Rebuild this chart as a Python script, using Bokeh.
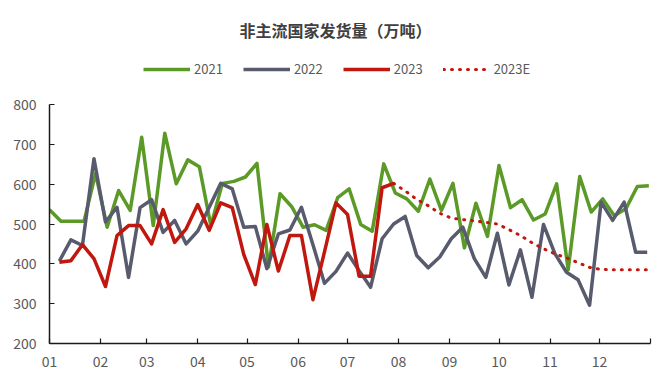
from bokeh.plotting import figure
from bokeh.models import FixedTicker, Legend, LegendItem, Range1d, Label
from bokeh.embed import file_html
from bokeh.resources import INLINE

# month start positions (day of year) and labels
month_ticks = [0, 31, 59, 90, 120, 151, 181, 212, 243, 273, 304, 334, 365]
month_labels = ["01", "02", "03", "04", "05", "06", "07", "08", "09", "10", "11", "12", ""]
y_ticks = [200, 300, 400, 500, 600, 700, 800]

# weekly shipments (万吨)
v2021 = [536, 507, 507, 507, 627, 492, 584, 534, 718, 496,
         728, 601, 661, 644, 496, 602, 607, 618, 652, 392,
         576, 544, 492, 498, 484, 566, 588, 499, 482, 651,
         578, 563, 532, 613, 534, 602, 440, 552, 469, 647,
         541, 561, 510, 525, 601, 385, 619, 530, 563, 521,
         538, 594, 596]
v2022 = [407, 460, 446, 664, 505, 542, 366, 541, 561, 479,
         509, 450, 482, 542, 602, 588, 492, 494, 388, 475,
         485, 542, 448, 351, 381, 427, 383, 341, 463, 500,
         519, 421, 390, 417, 463, 492, 413, 366, 477, 347,
         435, 316, 499, 425, 379, 360, 296, 555, 509, 555,
         429, 429]
v2023 = [404, 408, 448, 413, 343, 471, 496, 496, 450, 536,
         454, 488, 549, 484, 553, 541, 423, 348, 499, 382,
         471, 471, 310, 430, 553, 524, 369, 369, 591, 602]
v2023e = [602, 583, 562, 546, 527, 515, 511, 508, 504, 500,
          486, 471, 453, 438, 425, 415, 403, 391, 386, 385,
          385, 385, 385]

start_2021 = 0
start_other = 6
week = 7

x2021 = [start_2021 + week * i for i in range(len(v2021))]
x2022 = [start_other + week * i for i in range(len(v2022))]
x2023 = [start_other + week * i for i in range(len(v2023))]
e0 = len(v2023) - 1
x2023e = [start_other + week * (e0 + i) for i in range(len(v2023e))]

C21 = "#5C9A27"
C22 = "#585A6E"
C23 = "#C0180E"
TXT = "#595959"
FONT = "Noto Sans CJK SC"

# plot frame spans the full height above the x axis; the y axis line is bounded to 200-800
W, H = 669, 384
frame_bottom = 343
frame_top_800 = 104
px_per_unit = (frame_bottom - frame_top_800) / (y_ticks[-1] - y_ticks[0])
y_top = y_ticks[0] + frame_bottom / px_per_unit

p = figure(width=W, height=H, output_backend="svg", toolbar_location=None,
           x_range=Range1d(0, 365), y_range=Range1d(200, y_top),
           min_border_left=49, min_border_right=19, min_border_bottom=H - frame_bottom,
           min_border_top=0)
p.outline_line_color = None
p.grid.grid_line_color = None
p.background_fill_color = "white"
p.title.visible = False

title = Label(x=286, y=314, x_units="screen", y_units="screen",
              text="非主流国家发货量（万吨）", text_font=FONT,
              text_font_size="16px", text_font_style="bold",
              text_color="#404040", text_align="center", text_baseline="middle")
p.add_layout(title)

r21 = p.line(x2021, v2021, line_color=C21, line_width=3.5, line_join="round")
r22 = p.line(x2022, v2022, line_color=C22, line_width=3.5, line_join="round")
r23e = p.line(x2023e, v2023e, line_color=C23, line_width=3, line_dash="1 7",
              line_cap="round")
r23 = p.line(x2023, v2023, line_color=C23, line_width=3.5, line_join="round")

legend = Legend(items=[LegendItem(label="2021", renderers=[r21]),
                       LegendItem(label="2022", renderers=[r22]),
                       LegendItem(label="2023", renderers=[r23]),
                       LegendItem(label="2023E", renderers=[r23e])],
                orientation="horizontal", location=(94, 265))
legend.glyph_width = 47
legend.glyph_height = 16
legend.label_height = 16
legend.label_text_font = FONT
legend.label_text_font_size = "13px"
legend.label_text_color = TXT
legend.label_standoff = 4
legend.spacing = 20
legend.padding = 0
legend.margin = 0
legend.border_line_alpha = 0
legend.background_fill_alpha = 0
p.add_layout(legend)

p.yaxis.ticker = FixedTicker(ticks=y_ticks)
p.yaxis.bounds = (y_ticks[0], y_ticks[-1])
p.xaxis.ticker = FixedTicker(ticks=month_ticks)
p.xaxis.major_label_overrides = {t: l for t, l in zip(month_ticks, month_labels)}

for ax in (p.xaxis, p.yaxis):
    ax.axis_line_color = "#1a1a1a"
    ax.axis_line_width = 1.5
    ax.major_tick_line_color = "#1a1a1a"
    ax.major_tick_line_width = 1.2
    ax.major_tick_in = 5
    ax.major_tick_out = 0
    ax.minor_tick_line_color = None
    ax.major_label_text_font = FONT
    ax.major_label_text_font_size = "14px"
    ax.major_label_text_color = TXT
p.yaxis.major_label_standoff = 13
p.xaxis.major_label_standoff = 12

open("out.html", "w").write(file_html(p, INLINE))
